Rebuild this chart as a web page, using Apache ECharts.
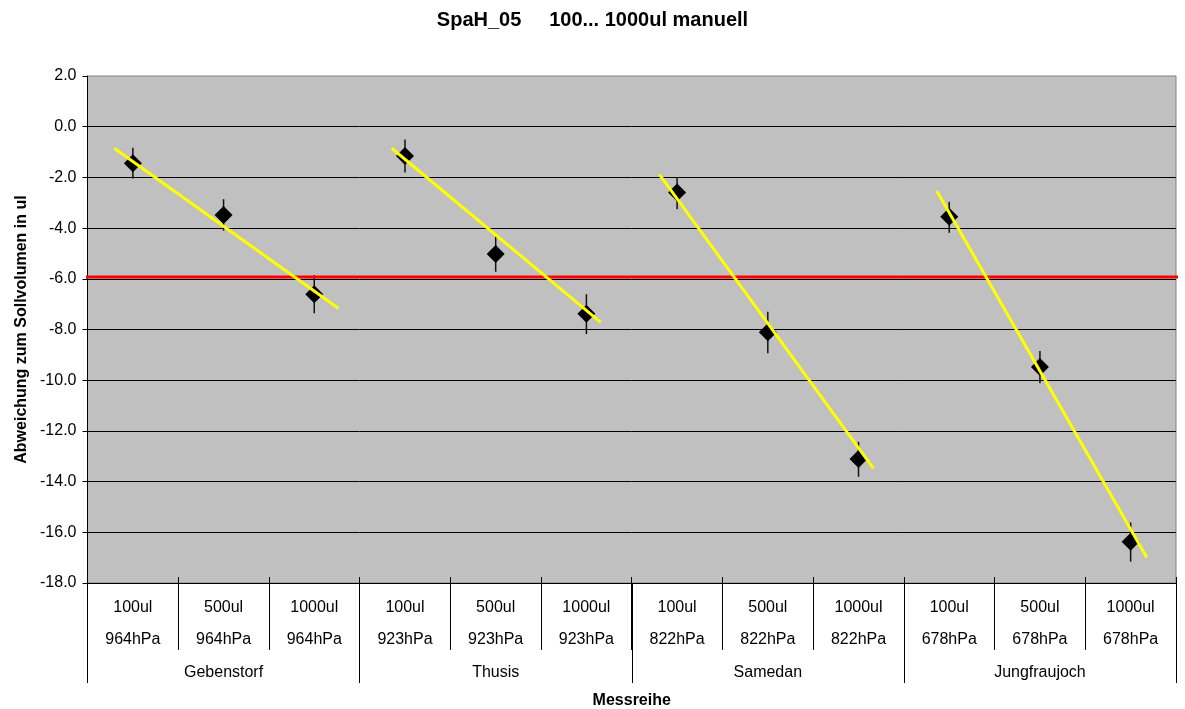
<!DOCTYPE html>
<html>
<head>
<meta charset="utf-8">
<script src="https://cdn.jsdelivr.net/npm/echarts@6/dist/echarts.min.js"></script>
<style>
html,body{margin:0;padding:0;background:#fff;}
#chart{width:1185px;height:709px;}
</style>
</head>
<body>
<div id="chart"></div>
<script>
// ---- data ----
const titleText = 'SpaH_05     100... 1000ul manuell';
const volumeLabels = ['100ul','500ul','1000ul','100ul','500ul','1000ul','100ul','500ul','1000ul','100ul','500ul','1000ul'];
const pressureLabels = ['964hPa','964hPa','964hPa','923hPa','923hPa','923hPa','822hPa','822hPa','822hPa','678hPa','678hPa','678hPa'];
const groupLabels = ['Gebenstorf','Thusis','Samedan','Jungfraujoch'];
const meanDeviation = [-1.44,-3.48,-6.61,-1.16,-5.02,-7.38,-2.60,-8.11,-13.11,-3.55,-9.48,-16.37];
const errUpper = [-0.83,-2.86,-5.85,-0.50,-4.34,-6.61,-2.00,-7.30,-12.43,-2.96,-8.85,-15.61];
const errLower = [-2.04,-4.10,-7.36,-1.81,-5.72,-8.18,-3.26,-8.94,-13.81,-4.18,-10.12,-17.16];
// trend line end points (x in category units 0..12, y in ul)
const trendStartX = [0.295, 3.354, 6.304, 9.363];
const trendStartY = [-0.85, -0.85, -1.88, -2.54];
const trendEndX = [2.765, 5.658, 8.664, 11.678];
const trendEndY = [-7.16, -7.72, -13.48, -16.99];
// red limit line
const limitX = [-0.09, 12.06];
const limitY = -5.93;
const yTicks = {min: -18, max: 2, interval: 2};

const FONT = "'Liberation Sans', Arial, sans-serif";
const chart = echarts.init(document.getElementById('chart'), null, {renderer: 'canvas'});

const catLabels = volumeLabels.map((v, i) => v + '\n' + pressureLabels[i]);

const trendSeries = trendStartX.map((sx, k) => ({
  type: 'line',
  xAxisIndex: 2,
  yAxisIndex: 0,
  data: [[sx, trendStartY[k]], [trendEndX[k], trendEndY[k]]],
  symbol: 'none',
  lineStyle: {color: '#FFFF00', width: 3},
  clip: false,
  z: 5,
  silent: true
}));

const option = {
  backgroundColor: '#ffffff',
  animation: false,
  textStyle: {fontFamily: FONT},
  title: {
    text: titleText,
    left: 'center',
    top: 5,
    textStyle: {fontFamily: FONT, fontSize: 20, fontWeight: 'bold', color: '#000'}
  },
  grid: {
    left: 87.5, right: 9, top: 76, bottom: 126,
    containLabel: false,
    outerBoundsMode: 'none',
    show: true, backgroundColor: '#C0C0C0', borderColor: '#808080', borderWidth: 1
  },
  xAxis: [
    {
      type: 'category',
      data: catLabels,
      position: 'bottom',
      boundaryGap: true,
      axisLine: {show: true, onZero: false, lineStyle: {color: '#000', width: 1}},
      axisTick: {show: true, length: 67, lineStyle: {color: '#000', width: 1}},
      axisLabel: {
        interval: 0, margin: 9, fontSize: 16, lineHeight: 32, color: '#000', fontFamily: FONT
      },
      splitLine: {show: false}
    },
    {
      type: 'category',
      data: groupLabels,
      position: 'bottom',
      boundaryGap: true,
      axisLine: {show: false, onZero: false},
      axisTick: {show: true, length: 100, lineStyle: {color: '#000', width: 1}},
      axisLabel: {interval: 0, margin: 81, fontSize: 16, lineHeight: 18, color: '#000', fontFamily: FONT},
      name: 'Messreihe',
      nameLocation: 'middle',
      nameGap: 110,
      nameTextStyle: {fontSize: 16, fontWeight: 'bold', color: '#000', fontFamily: FONT},
      splitLine: {show: false}
    },
    {
      type: 'value',
      min: 0, max: 12,
      show: false,
      axisLine: {onZero: false}
    },
    {
      type: 'category',
      data: catLabels,
      position: 'bottom',
      boundaryGap: true,
      axisLine: {show: false, onZero: false},
      axisTick: {show: true, inside: true, length: 6, lineStyle: {color: '#000', width: 1}},
      axisLabel: {show: false},
      splitLine: {show: false}
    }
  ],
  yAxis: [{
    type: 'value',
    min: yTicks.min, max: yTicks.max, interval: yTicks.interval,
    name: 'Abweichung zum Sollvolumen in ul',
    nameLocation: 'middle',
    nameGap: 58,
    nameTextStyle: {fontSize: 16, fontWeight: 'bold', color: '#000', fontFamily: FONT},
    axisLine: {show: true, lineStyle: {color: '#000', width: 1}},
    axisTick: {show: true, length: 5, lineStyle: {color: '#000', width: 1}},
    axisLabel: {
      margin: 11, fontSize: 16, color: '#000', fontFamily: FONT,
      formatter: v => v.toFixed(1)
    },
    splitLine: {show: true, showMaxLine: false, lineStyle: {color: '#000', width: 1}}
  }],
  series: [
    {
      type: 'custom',
      xAxisIndex: 0,
      yAxisIndex: 0,
      data: errUpper.map((u, i) => [i, u, errLower[i]]),
      renderItem: function (params, api) {
        const p1 = api.coord([api.value(0), api.value(1)]);
        const p2 = api.coord([api.value(0), api.value(2)]);
        return {
          type: 'line',
          shape: {x1: p1[0], y1: p1[1], x2: p2[0], y2: p2[1]},
          style: {stroke: '#111', lineWidth: 1.5}
        };
      },
      z: 2,
      silent: true
    },
    {
      type: 'scatter',
      xAxisIndex: 0,
      yAxisIndex: 0,
      data: meanDeviation,
      symbol: 'diamond',
      symbolSize: 18,
      itemStyle: {color: '#000', opacity: 1},
      z: 3,
      silent: true
    },
    {
      type: 'line',
      xAxisIndex: 2,
      yAxisIndex: 0,
      data: limitX.map(x => [x, limitY]),
      symbol: 'none',
      lineStyle: {color: '#FF0000', width: 3},
      clip: false,
      z: 4,
      silent: true
    }
  ].concat(trendSeries)
};
chart.setOption(option);
</script>
</body>
</html>
